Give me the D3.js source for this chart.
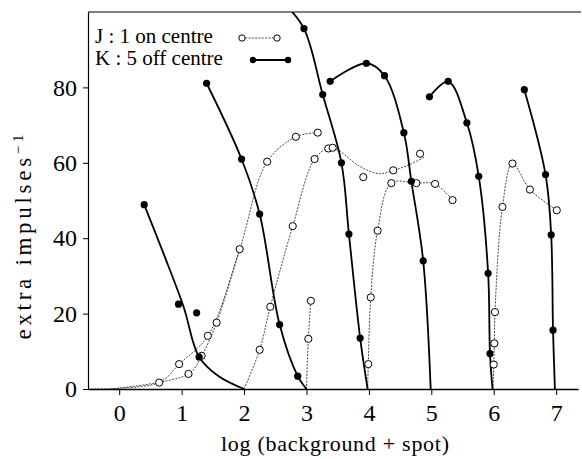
<!DOCTYPE html>
<html>
<head>
<meta charset="utf-8">
<script src="https://cdn.jsdelivr.net/npm/d3@7"></script>
<style>
  body { margin: 0; background: #fff; }
  svg { display: block; font-family: "Liberation Serif", "Times New Roman", serif; }
</style>
</head>
<body>
<div class="container"></div>
<script>
// ticks
const xTicks = [0, 1, 2, 3, 4, 5, 6, 7]
const yTicks = [0, 20, 40, 60, 80]

// J : 1 on centre (open circles, dotted lines)
const jSegments = [
  [[-0.45, 0], [0.64, 1.7], [0.96, 6.6], [1.42, 14.1], [1.93, 37.1], [2.37, 60.3], [2.83, 66.9], [3.18, 68.0]],
  [[-0.15, 0], [1.11, 4.0], [1.32, 8.8], [1.56, 17.6], [1.93, 37.1]],
  [[2.0, 0], [2.25, 10.4], [2.42, 21.8], [2.78, 43.2], [3.13, 61.0], [3.37, 64.0], [3.53, 63.1], [3.85, 59.1], [4.17, 57.1], [4.39, 58.0], [4.65, 59.5], [4.9, 61.6]],
  [[3.0, 0], [3.03, 13.3], [3.07, 23.4]],
  [[3.98, 0], [3.99, 6.6], [4.03, 24.3], [4.14, 42.0], [4.36, 54.6], [4.76, 54.6], [5.06, 54.4], [5.34, 50.1]],
  [[5.99, 0], [6.0, 6.5], [6.01, 12.1], [6.02, 20.4], [6.14, 48.3], [6.30, 59.8], [6.58, 52.9], [7.01, 47.4]]
]
const jPoints = [
  [0.64, 1.7], [0.96, 6.6], [1.11, 4.0], [1.32, 8.8], [1.42, 14.1], [1.56, 17.6], [1.93, 37.1],
  [2.37, 60.3], [2.83, 66.9], [3.18, 68.0], [2.25, 10.4], [2.42, 21.8], [2.78, 43.2], [3.13, 61.0],
  [3.35, 63.8], [3.42, 64.0], [3.91, 56.2], [4.39, 58.0], [4.82, 62.4], [3.03, 13.3], [3.07, 23.4],
  [3.99, 6.6], [4.03, 24.3], [4.14, 42.0], [4.36, 54.6], [4.76, 54.6], [5.06, 54.4], [5.34, 50.1],
  [6.0, 6.5], [6.01, 12.1], [6.02, 20.4], [6.14, 48.3], [6.30, 59.8], [6.58, 52.9], [7.01, 47.4]
]

// K : 5 off centre (filled circles, solid curves)
const kSegments = [
  [[0.40, 48.9], [0.72, 35.5], [1.03, 21.9], [1.28, 8.5], [1.6, 3.3], [2.0, 0]],
  [[1.40, 81.1], [1.96, 61.0], [2.25, 46.4], [2.57, 17.1], [2.86, 3.4], [3.0, 0]],
  [[2.66, 102], [2.96, 95.6], [3.26, 78.1], [3.56, 60.0], [3.68, 41.1], [3.86, 13.5], [3.98, 0]],
  [[3.38, 81.6], [3.96, 86.4], [4.25, 83.1], [4.56, 68.0], [4.68, 55.1], [4.87, 34.0], [4.99, 0]],
  [[4.97, 77.5], [5.27, 81.6], [5.57, 70.6], [5.76, 56.4], [5.91, 30.7], [5.94, 9.4], [5.98, 0]],
  [[6.49, 79.4], [6.83, 56.9], [6.92, 40.9], [6.95, 15.6], [6.98, 0]]
]
const kPoints = [
  [0.40, 48.9], [0.95, 22.5], [1.24, 20.2], [1.28, 8.5],
  [1.40, 81.1], [1.96, 61.0], [2.25, 46.4], [2.57, 17.1], [2.86, 3.4],
  [2.96, 95.6], [3.26, 78.1], [3.56, 60.0], [3.68, 41.1], [3.86, 13.5],
  [3.38, 81.6], [3.96, 86.4], [4.25, 83.1], [4.56, 68.0], [4.68, 55.1], [4.87, 34.0],
  [4.97, 77.5], [5.27, 81.6], [5.57, 70.6], [5.76, 56.4], [5.91, 30.7], [5.94, 9.4],
  [6.49, 79.4], [6.83, 56.9], [6.92, 40.9], [6.95, 15.6]
]

const width = 582
const height = 459
const plotLeft = 88, plotRight = 578, plotTop = 12, plotBottom = 389

const svg = d3.select(".container")
              .append("svg")
              .attr("width", width)
              .attr("height", height)

const x = d3.scaleLinear().domain([-0.5, 7.35]).range([plotLeft, plotRight])
const y = d3.scaleLinear().domain([0, 100]).range([plotBottom, plotTop])

svg.append("clipPath")
   .attr("id", "plot")
   .append("rect")
   .attr("x", plotLeft)
   .attr("y", plotTop)
   .attr("width", plotRight - plotLeft + 4)
   .attr("height", plotBottom - plotTop)

// frame: top line
svg.append("line")
   .attr("x1", plotLeft).attr("x2", 581)
   .attr("y1", plotTop).attr("y2", plotTop)
   .attr("stroke", "#000")
   .attr("stroke-width", 1.2)

const xAxis = svg.append("g")
                 .attr("transform", "translate(0," + plotBottom + ")")
                 .call(d3.axisBottom(x).tickValues(xTicks).tickSize(6).tickPadding(9).tickSizeOuter(0))
xAxis.select(".domain").attr("stroke-width", 1.4)
xAxis.selectAll("text")
     .attr("font-family", "Liberation Serif")
     .style("font-size", "24px")
     .attr("fill", "#000")

const yAxis = svg.append("g")
                 .attr("transform", "translate(" + plotLeft + ",0)")
                 .call(d3.axisLeft(y).tickValues(yTicks).tickSize(5).tickPadding(6).tickSizeOuter(0))
yAxis.select(".domain").attr("stroke-width", 1.2)
yAxis.selectAll("text")
     .attr("font-family", "Liberation Serif")
     .style("font-size", "24px")
     .attr("fill", "#000")

svg.append("text")
   .attr("x", 335)
   .attr("y", 451)
   .attr("text-anchor", "middle")
   .attr("textLength", 228)
   .attr("lengthAdjust", "spacing")
   .style("font-size", "22px")
   .text("log (background + spot)")

const yLabel = svg.append("text")
                  .attr("transform", "translate(31,237) rotate(-90)")
                  .attr("text-anchor", "middle")
                  .attr("textLength", 205)
                  .attr("lengthAdjust", "spacing")
                  .style("font-size", "23px")
yLabel.append("tspan").text("extra impulses")
yLabel.append("tspan").attr("dy", -8).style("font-size", "15px").text("−1")

const plot = svg.append("g").attr("clip-path", "url(#plot)")

const line = d3.line()
               .x((d)=> x(d[0]))
               .y((d)=> y(d[1]))
               .curve(d3.curveCatmullRom.alpha(0.5))

plot.selectAll(".jline")
    .data(jSegments)
    .enter()
    .append("path")
    .attr("class", "jline")
    .attr("d", line)
    .attr("fill", "none")
    .attr("stroke", "#333")
    .attr("stroke-width", 0.9)
    .attr("stroke-dasharray", "2,1.3")

plot.selectAll(".kline")
    .data(kSegments)
    .enter()
    .append("path")
    .attr("class", "kline")
    .attr("d", line)
    .attr("fill", "none")
    .attr("stroke", "#000")
    .attr("stroke-width", 1.8)

svg.selectAll(".jpt")
   .data(jPoints)
   .enter()
   .append("circle")
   .attr("class", "jpt")
   .attr("cx", (d)=> x(d[0]))
   .attr("cy", (d)=> y(d[1]))
   .attr("r", 3.6)
   .attr("fill", "#fff")
   .attr("stroke", "#000")
   .attr("stroke-width", 1)

svg.selectAll(".kpt")
   .data(kPoints)
   .enter()
   .append("circle")
   .attr("class", "kpt")
   .attr("cx", (d)=> x(d[0]))
   .attr("cy", (d)=> y(d[1]))
   .attr("r", 3.6)
   .attr("fill", "#000")

// legend
const legend = svg.append("g")
legend.append("text").attr("x", 95).attr("y", 43).style("font-size", "21px").text("J : 1 on centre")
legend.append("text").attr("x", 95).attr("y", 65).style("font-size", "21px").text("K : 5 off centre")
legend.append("line")
      .attr("x1", 242).attr("x2", 277).attr("y1", 38).attr("y2", 38)
      .attr("stroke", "#333").attr("stroke-width", 0.9).attr("stroke-dasharray", "2,1.3")
legend.append("line")
      .attr("x1", 253).attr("x2", 288).attr("y1", 60).attr("y2", 60)
      .attr("stroke", "#000").attr("stroke-width", 1.8)
legend.selectAll(".lj")
      .data([242, 277])
      .enter()
      .append("circle")
      .attr("cx", (d)=> d).attr("cy", 38).attr("r", 3.2)
      .attr("fill", "#fff").attr("stroke", "#000")
legend.selectAll(".lk")
      .data([253, 288])
      .enter()
      .append("circle")
      .attr("cx", (d)=> d).attr("cy", 60).attr("r", 3.2)
      .attr("fill", "#000")
</script>
</body>
</html>
